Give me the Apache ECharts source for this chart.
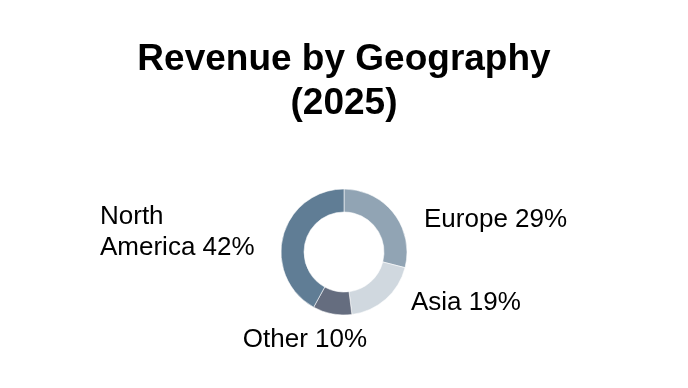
<!DOCTYPE html>
<html>
<head>
<meta charset="utf-8">
<script src="https://cdn.jsdelivr.net/npm/echarts@6/dist/echarts.min.js"></script>
<style>html,body{margin:0;padding:0;background:#fff}#c{width:688px;height:388px}</style>
</head>
<body>
<div id="c"></div>
<script>
const categories = ['Europe', 'Asia', 'Other', 'North America'];
const values = [29, 19, 10, 42];
const colors = ['#91a4b4', '#d0d8df', '#656d7f', '#607d95'];

// label anchor styling (offsets from pie centre, px)
const labelStyle = [
  { dx: 80, dy: -32, align: 'left' },
  { dx: 67, dy: 51, align: 'left' },
  { dx: -39, dy: 88, align: 'center' },
  { dx: -244, dy: -20, align: 'left' }
];
const cx = 344, cy = 252;

const chart = echarts.init(document.getElementById('c'), null, { renderer: 'canvas' });
chart.setOption({
  animation: false,
  backgroundColor: '#ffffff',
  title: {
    text: 'Revenue by Geography\n(2025)',
    left: 'center',
    top: 33,
    textStyle: {
      fontFamily: 'Liberation Sans, Arial, sans-serif',
      fontWeight: 'bold',
      fontSize: 37,
      lineHeight: 44,
      color: '#000'
    }
  },
  series: [{
    type: 'pie',
    center: [cx, cy],
    radius: [40, 63],
    startAngle: 90,
    clockwise: true,
    avoidLabelOverlap: false,
    data: categories.map((c, i) => ({ name: c, value: values[i], itemStyle: { color: colors[i] } })),
    itemStyle: { borderColor: 'rgba(255,255,255,0.7)', borderWidth: 0.8 },
    label: {
      show: true,
      position: 'outside',
      formatter: p => p.name + ' ' + p.value + '%',
      fontFamily: 'Liberation Sans, Arial, sans-serif',
      fontSize: 26,
      lineHeight: 31,
      color: '#000',
      width: 160,
      overflow: 'break'
    },
    labelLine: { show: false },
    labelLayout: function (params) {
      const s = labelStyle[params.dataIndex];
      return { x: cx + s.dx, y: cy + s.dy, align: s.align, verticalAlign: 'middle', hideOverlap: false };
    },
    emphasis: { disabled: true }
  }]
});
</script>
</body>
</html>
